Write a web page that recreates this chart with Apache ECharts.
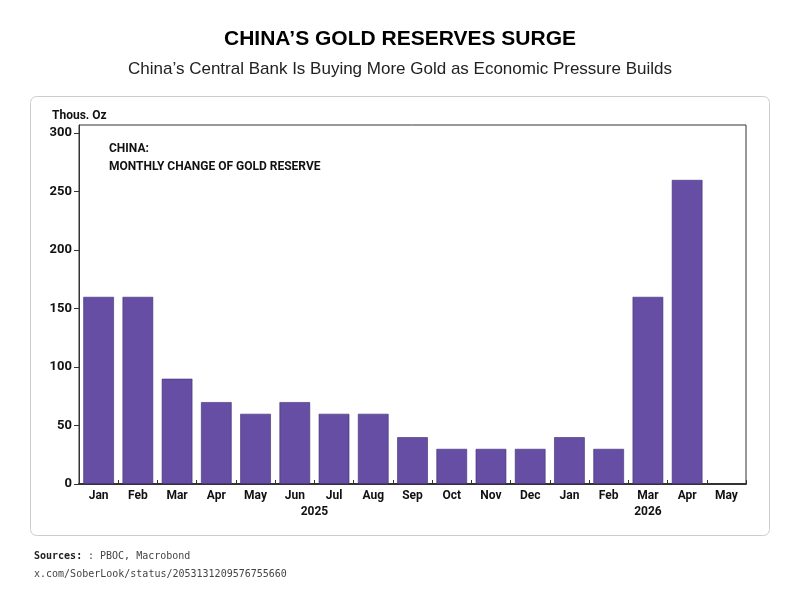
<!DOCTYPE html>
<html>
<head>
<meta charset="utf-8">
<script src="https://cdn.jsdelivr.net/npm/echarts@6/dist/echarts.min.js"></script>
<style>
  html, body { margin: 0; padding: 0; background: #fff; }
  #chart { width: 800px; height: 601px; }
</style>
</head>
<body>
<div id="chart"></div>
<script>
var months = ['Jan','Feb','Mar','Apr','May','Jun','Jul','Aug','Sep','Oct','Nov','Dec','Jan','Feb','Mar','Apr','May'];
var goldChange = [160,160,90,70,60,70,60,60,40,30,30,30,40,30,160,260,null];
var yTicks = [0,50,100,150,200,250,300];
var years = ['2025','2026'];

var myChart = echarts.init(document.getElementById('chart'));
var lblFont = 'Roboto';

var option = {
    backgroundColor: '#fff',
    animation: false,
    title: [
        {text: 'CHINA\u2019S GOLD RESERVES SURGE', left: 'center', top: 24,
         textStyle: {fontFamily: 'Liberation Sans', fontWeight: 'bold', fontSize: 21, color: '#000'}},
        {text: 'China\u2019s Central Bank Is Buying More Gold as Economic Pressure Builds', left: 'center', top: 56,
         textStyle: {fontFamily: 'Liberation Sans', fontWeight: 'normal', fontSize: 17, color: '#222'}}
    ],
    grid: {left: 79, right: 54, top: 125, bottom: 117, show: true, borderColor: '#333', borderWidth: 1},
    xAxis: {
        type: 'category',
        data: months,
        axisLine: {lineStyle: {color: '#333', width: 2}},
        axisTick: {show: true, inside: true, length: 4, lineStyle: {color: '#333'}},
        axisLabel: {color: '#111', fontFamily: lblFont, fontWeight: 'bold', fontSize: 12, margin: 6}
    },
    yAxis: {
        type: 'value',
        min: 0, max: 307, interval: 50,
        splitLine: {show: false},
        axisLine: {show: true, lineStyle: {color: '#333'}},
        axisTick: {show: true, length: 5, lineStyle: {color: '#333'}},
        axisLabel: {color: '#111', fontFamily: lblFont, fontWeight: 'bold', fontSize: 13, margin: 7, showMaxLabel: false,
            formatter: function (v) { return yTicks.indexOf(v) >= 0 ? v : ''; }}
    },
    series: [{
        type: 'bar',
        data: goldChange,
        barCategoryGap: '22%',
        itemStyle: {color: '#654ea3', borderColor: '#3e2d72', borderWidth: 0.6}
    }],
    graphic: [
        {type: 'rect', shape: {x: 30.5, y: 96.5, width: 739, height: 439, r: 6}, z: -1,
         style: {fill: '#fff', stroke: '#cccccc', lineWidth: 1}},
        {type: 'text', left: 52, top: 110, style: {text: 'Thous. Oz', fontFamily: lblFont, fontWeight: 'bold', fontSize: 12, fill: '#111'}},
        {type: 'text', left: 109, top: 140, style: {text: 'CHINA:\nMONTHLY CHANGE OF GOLD RESERVE', lineHeight: 18, fontFamily: lblFont, fontWeight: 'bold', fontSize: 12, fill: '#111'}},
        {type: 'text', left: 34, top: 551, style: {text: 'Sources: ', fontFamily: 'DejaVu Sans Mono', fontWeight: 'bold', fontSize: 10, fill: '#222'}},
        {type: 'text', left: 88, top: 551, style: {text: ': PBOC, Macrobond', fontFamily: 'DejaVu Sans Mono', fontSize: 10, fill: '#444'}},
        {type: 'text', left: 34, top: 569, style: {text: 'x.com/SoberLook/status/2053131209576755660', fontFamily: 'DejaVu Sans Mono', fontSize: 10, fill: '#444'}}
    ]
};
myChart.setOption(option);

// year labels placed under the months via the category axis
var x2025 = (myChart.convertToPixel({xAxisIndex: 0}, 5) + myChart.convertToPixel({xAxisIndex: 0}, 6)) / 2;
var x2026 = myChart.convertToPixel({xAxisIndex: 0}, 14);
var g = option.graphic.slice();
[[years[0], x2025], [years[1], x2026]].forEach(function (p) {
    g.push({type: 'text', x: p[1], y: 506, style: {text: p[0], align: 'center', fontFamily: lblFont, fontWeight: 'bold', fontSize: 12, fill: '#111'}});
});
myChart.setOption({graphic: g}, {replaceMerge: ['graphic']});
</script>
</body>
</html>
